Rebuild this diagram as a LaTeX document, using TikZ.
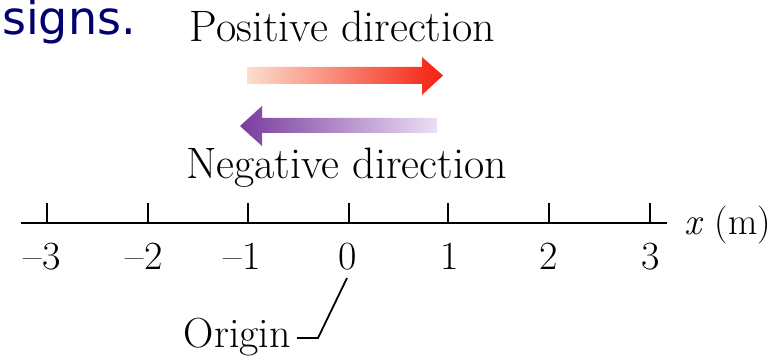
\documentclass[tikz,border=0pt]{standalone}
\usepackage{fontspec}
\newfontfamily\sansfam{DejaVu Sans}
\definecolor{navy}{RGB}{0,0,110}
\definecolor{peach}{RGB}{252,222,204}
\definecolor{redarrow}{RGB}{244,32,16}
\definecolor{purplearrow}{RGB}{120,60,158}
\definecolor{lavender}{RGB}{236,222,243}
\begin{document}
\begin{tikzpicture}[x=1pt,y=-1pt,
  lbl/.style={inner sep=0pt,anchor=base,font=\fontsize{44}{44}\selectfont},
  num/.style={inner sep=0pt,anchor=base,font=\fontsize{40}{40}\selectfont},
  axisline/.style={line width=2pt,black},
  tickline/.style={line width=1.6pt,black},
  leader/.style={line width=1.8pt,black}]
\useasboundingbox (0,0) rectangle (784,358);
% heading fragment
\node[inner sep=0pt,anchor=base east,text=navy,font=\sansfam\fontsize{46}{46}\selectfont] (signs) at (136,35) {signs.};
% texts
\node[lbl] (pos) at (342.5,42) {Positive direction};
\node[lbl] (neg) at (346.5,179) {Negative direction};
% arrows
\path[left color=peach,right color=redarrow]
  (247,67) -- (422,67) -- (422,57) -- (443,75.5) -- (422,95) -- (422,84) -- (247,84) -- cycle;
\path[left color=purplearrow,right color=lavender]
  (437,118) -- (262,118) -- (262,106) -- (240,126) -- (262,146) -- (262,133) -- (437,133) -- cycle;
% axis
\coordinate (axL) at (21,223);
\coordinate (axR) at (667,223);
\draw[axisline] (axL) -- (axR);
\foreach \xx/\nm in {47/a,148/b,248/c,349/d,448/e,549/f,650/g}{
  \coordinate (t\nm) at (\xx,223);
  \draw[tickline] (t\nm) -- ++(0,-20);
}
\node[num] (nm3) at (42,269) {–3};
\node[num] (nm2) at (144,269) {–2};
\node[num] (nm1) at (242,269) {–1};
\node[num] (n0) at (347.5,269) {0};
\node[num] (n1) at (450,269) {1};
\node[num] (n2) at (548.5,269) {2};
\node[num] (n3) at (651,269) {3};
\node[inner sep=0pt,anchor=base west,font=\fontsize{38}{38}\selectfont] (xm) at (684,234) {\textit{x} (m)};
% origin
\node[inner sep=0pt,anchor=base east,font=\fontsize{42}{42}\selectfont] (orig) at (291,347) {Origin};
\coordinate (ltop) at (347,278);
\coordinate (lbend) at (318,338);
\coordinate (lend) at (297,338);
\draw[leader] (ltop) -- (lbend) -- (lend);
\end{tikzpicture}
\end{document}
